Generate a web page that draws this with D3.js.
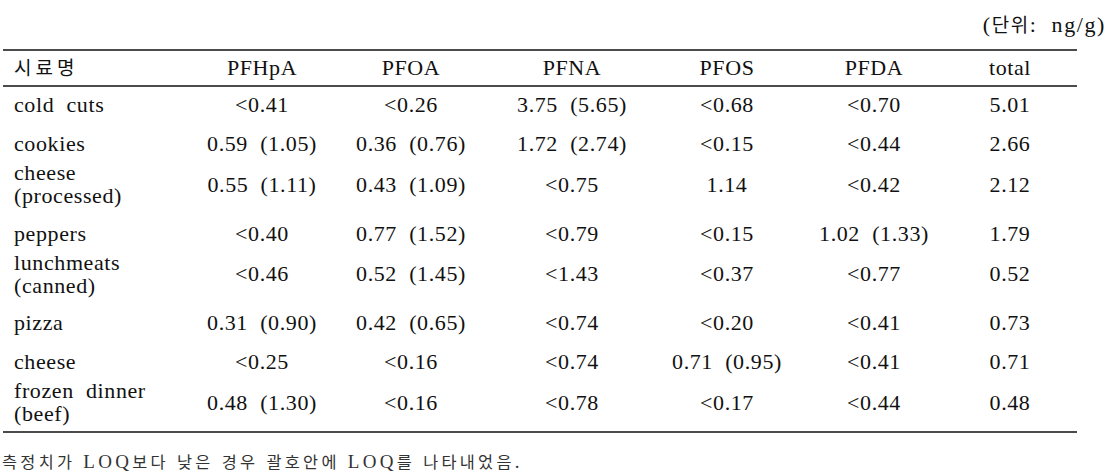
<!DOCTYPE html>
<html>
<head>
<meta charset="utf-8">
<script src="https://cdn.jsdelivr.net/npm/d3@7"></script>
<style>
  body { margin: 0; background: #fff; }
  text { font-family: "Liberation Serif", "DejaVu Serif", serif; fill: #111; }
  .ko { font-family: "Noto Sans CJK KR", sans-serif; }
</style>
</head>
<body>
<svg id="table" width="1112" height="476"></svg>
<script>
var unitLabel = '(단위:  ng/g)'
var firstHeader = '시료명'
var columns = ['PFHpA', 'PFOA', 'PFNA', 'PFOS', 'PFDA', 'total']
var samples = [
    ['cold cuts'],
    ['cookies'],
    ['cheese', '(processed)'],
    ['peppers'],
    ['lunchmeats', '(canned)'],
    ['pizza'],
    ['cheese'],
    ['frozen dinner', '(beef)']
]
var PFHpA = ['<0.41', '0.59  (1.05)', '0.55  (1.11)', '<0.40', '<0.46', '0.31  (0.90)', '<0.25', '0.48  (1.30)']
var PFOA = ['<0.26', '0.36  (0.76)', '0.43  (1.09)', '0.77  (1.52)', '0.52  (1.45)', '0.42  (0.65)', '<0.16', '<0.16']
var PFNA = ['3.75  (5.65)', '1.72  (2.74)', '<0.75', '<0.79', '<1.43', '<0.74', '<0.74', '<0.78']
var PFOS = ['<0.68', '<0.15', '1.14', '<0.15', '<0.37', '<0.20', '0.71  (0.95)', '<0.17']
var PFDA = ['<0.70', '<0.44', '<0.42', '1.02  (1.33)', '<0.77', '<0.41', '<0.41', '<0.44']
var total = ['5.01', '2.66', '2.12', '1.79', '0.52', '0.73', '0.71', '0.48']
var footnote = '측정치가 LOQ보다 낮은 경우 괄호안에 LOQ를 나타내었음.'

var values = [PFHpA, PFOA, PFNA, PFOS, PFDA, total]

var svg = d3.select('#table')
var left = 3, right = 1077
var topLine = 50, headLine = 86, bottomLine = 432

// column centres
var xscale = d3.scaleOrdinal()
    .domain(columns)
    .range([262, 411, 572, 727, 874, 1010])

// rows: two-line rows are taller
var units = samples.map(d => d.length > 1 ? 1.32 : 1)
var cum = [0]
units.forEach((u, i) => cum.push(cum[i] + u))
var yscale = d3.scaleLinear()
    .domain([0, cum[cum.length - 1]])
    .range([headLine, bottomLine])

var fs = 22

// split text in hangul / latin runs so latin stays serif
function mixed(sel, str) {
    var runs = str.match(/[\uAC00-\uD7A3]+|[^\uAC00-\uD7A3]+/g)
    runs.forEach(function (r) {
        var ko = /[\uAC00-\uD7A3]/.test(r)
        sel.append('tspan')
            .attr('class', ko ? 'ko' : null)
            .style('font-size', ko ? '0.86em' : '1em')
            .text(r)
    })
}

// rules
svg.append('g').selectAll('line')
    .data([topLine, headLine, bottomLine])
    .enter().append('line')
    .attr('x1', left).attr('x2', right)
    .attr('y1', d => d).attr('y2', d => d)
    .attr('stroke', '#111').attr('stroke-width', 1.6)

// unit label
svg.append('text')
    .attr('x', 1106).attr('y', 32)
    .attr('text-anchor', 'end')
    .style('font-size', '22px')
    .style('letter-spacing', '1.6px')
    .style('white-space', 'pre')
    .call(mixed, unitLabel)

// header
var headY = (topLine + headLine) / 2 + 7
svg.append('text').attr('class', 'ko')
    .attr('x', 14).attr('y', headY)
    .style('font-size', '19px')
    .style('letter-spacing', '4px')
    .text(firstHeader)
svg.append('g').selectAll('text')
    .data(columns).enter().append('text')
    .attr('x', d => xscale(d)).attr('y', headY)
    .attr('text-anchor', 'middle')
    .style('font-size', fs + 'px')
    .style('letter-spacing', '0.6px')
    .text(d => d)

// body rows
var rows = svg.append('g').selectAll('g')
    .data(samples).enter().append('g')
    .attr('transform', function (d, i) {
        var c = (yscale(cum[i]) + yscale(cum[i + 1])) / 2 - (d.length > 1 ? 4 : 0)
        return 'translate(0,' + (c + 7) + ')'
    })

rows.each(function (d) {
    var g = d3.select(this)
    d.forEach(function (line, k) {
        g.append('text')
            .attr('x', 14)
            .attr('y', (k - (d.length - 1) / 2) * 23)
            .style('font-size', fs + 'px')
            .style('letter-spacing', '0.6px')
            .style('white-space', 'pre')
            .text(line.replace(' ', '  '))
    })
})

rows.each(function (d, i) {
    d3.select(this).selectAll('text.v')
        .data(columns).enter().append('text')
        .attr('class', 'v')
        .attr('x', c => xscale(c))
        .attr('y', 0)
        .attr('text-anchor', 'middle')
        .style('font-size', fs + 'px')
        .style('letter-spacing', '0.6px')
        .style('white-space', 'pre')
        .text((c, j) => values[j][i])
})

// footnote
svg.append('text')
    .attr('x', 2).attr('y', 468)
    .style('font-size', '19px')
    .style('letter-spacing', '3.3px')
    .style('fill', '#333')
    .style('white-space', 'pre')
    .call(mixed, footnote)
</script>
</body>
</html>
